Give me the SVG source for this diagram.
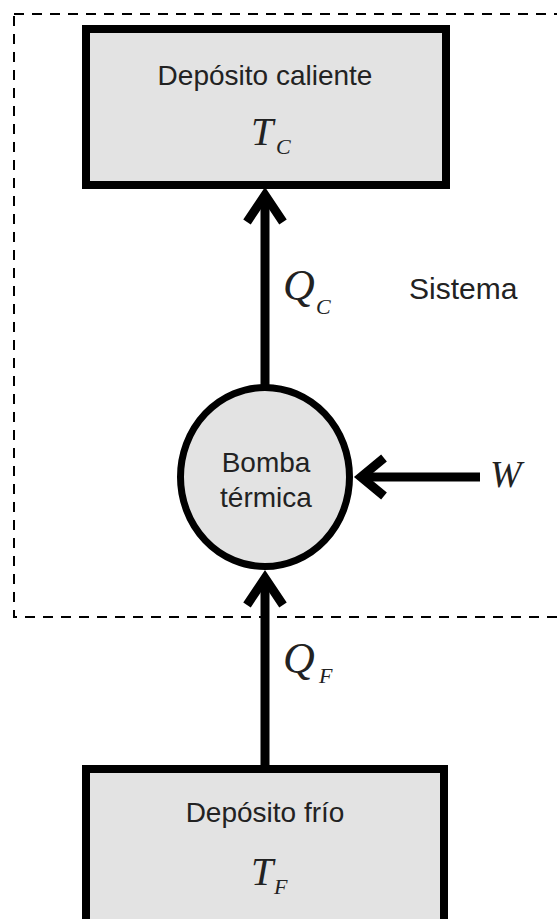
<svg xmlns="http://www.w3.org/2000/svg" width="557" height="919" viewBox="0 0 557 919">
<style>
.box{fill:#e3e3e3;stroke:#000;stroke-width:8}
.lbl{font-family:"Liberation Sans",Arial,sans-serif;fill:#222;text-anchor:middle}
.math{font-family:"Liberation Serif","Times New Roman",serif;font-style:italic;fill:#222}
.line{stroke:#000;stroke-width:9;fill:none}
.head{stroke:#000;stroke-width:9;fill:none;stroke-linejoin:miter;stroke-miterlimit:10;stroke-linecap:butt}
</style>
<rect id="sistema-border" x="14" y="14" width="600" height="603" fill="none" stroke="#000" stroke-width="2" stroke-dasharray="10 8"/>
<text class="lbl" x="409" y="299" font-size="30" style="text-anchor:start">Sistema</text>
<g id="connectors">
  <line class="line" x1="265" y1="385" x2="265" y2="200"/>
  <polyline class="head" points="247,222 265,195 283,222"/>
  <line class="line" x1="265" y1="765" x2="265" y2="582"/>
  <polyline class="head" points="247,605 265,578 283,605"/>
  <line class="line" x1="480" y1="477" x2="365" y2="477"/>
  <polyline class="head" points="384,458 361,477 384,496"/>
  <text class="math" x="283" y="300" font-size="44">Q</text>
  <text class="math" x="316" y="314" font-size="22">C</text>
  <text class="math" x="283" y="673" font-size="44">Q</text>
  <text class="math" x="319" y="683" font-size="22">F</text>
  <text class="math" x="490" y="487" font-size="38">W</text>
</g>
<g id="deposito-caliente">
  <rect class="box" x="86" y="29" width="360" height="156"/>
  <text class="lbl" x="265" y="85" font-size="28">Depósito caliente</text>
  <text class="math" x="251" y="145" font-size="40">T</text>
  <text class="math" x="276" y="154" font-size="22">C</text>
</g>
<g id="bomba-termica">
  <ellipse cx="265" cy="477" rx="84.5" ry="89.5" fill="#e3e3e3" stroke="#000" stroke-width="7"/>
  <text class="lbl" x="266" y="472" font-size="28">Bomba</text>
  <text class="lbl" x="266" y="507" font-size="28">térmica</text>
</g>
<g id="deposito-frio">
  <rect class="box" x="86" y="769" width="358" height="200"/>
  <text class="lbl" x="265" y="822" font-size="28">Depósito frío</text>
  <text class="math" x="251" y="885" font-size="40">T</text>
  <text class="math" x="274" y="894" font-size="22">F</text>
</g>
</svg>
